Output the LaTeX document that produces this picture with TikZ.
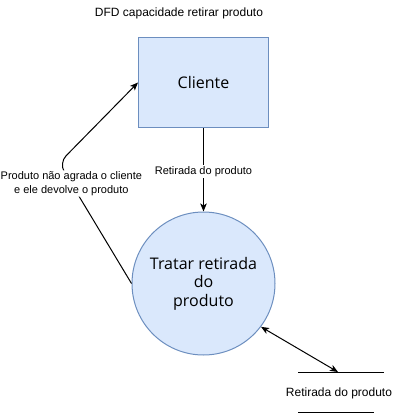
\documentclass[tikz,border=0pt]{standalone}
\usepackage{fontspec}
\setmainfont{Liberation Sans}
\newfontfamily\shapefont{Open Sans}
\usetikzlibrary{arrows.meta}
\definecolor{boxfill}{HTML}{DAE8FC}
\definecolor{boxline}{HTML}{6C8EBF}
\tikzset{
  entity/.style={draw=boxline, fill=boxfill, line width=1pt, minimum width=130pt, minimum height=90pt, inner sep=0pt, font=\shapefont\fontsize{16}{19}\selectfont},
  process/.style={circle, draw=boxline, fill=boxfill, line width=1pt, minimum size=143pt, inner sep=0pt, align=center, font=\shapefont\fontsize{16}{18.5}\selectfont},
  flow/.style={line width=1pt, -{Stealth[length=8pt,width=6.5pt,inset=2pt]}},
  biflow/.style={line width=1pt, {Stealth[length=8pt,width=6.5pt,inset=2pt]}-{Stealth[length=8pt,width=6.5pt,inset=2pt]}},
  elabel/.style={fill=white, inner sep=1pt, align=center, font=\fontsize{11}{14}\selectfont},
  plain/.style={font=\fontsize{12}{14}\selectfont, inner sep=0pt},
  storeline/.style={line width=1pt},
}
\begin{document}
\begin{tikzpicture}[x=1pt,y=-1pt]
\useasboundingbox (0,0) rectangle (402,416);
\node[plain] (title) at (179,13) {DFD capacidade retirar produto};
\node[entity] (cli) at (203.5,82.5) {Cliente};
\node[process] (proc) at (203.5,283.5) {Tratar retirada\\do\\produto};
\node[plain] (store) at (339,393) {Retirada do produto};
\coordinate (st1) at (298,372);
\coordinate (st2) at (384,372);
\coordinate (sb1) at (298,412);
\coordinate (sb2) at (374,412);
\coordinate (storetop) at (338,372);
\coordinate (bend) at (59,163);
\draw[storeline] (st1) -- (st2);
\draw[storeline] (sb1) -- (sb2);
\draw[flow] (cli.south) -- node[elabel, pos=0.52] {Retirada do produto} (proc.north);
\draw[flow, rounded corners=10pt] (proc.west) -- node[elabel, pos=0.83] {Produto não agrada o cliente\\e ele devolve o produto} (bend) -- (cli.west);
\draw[biflow] (proc.-37) -- (storetop);
\end{tikzpicture}
\end{document}
